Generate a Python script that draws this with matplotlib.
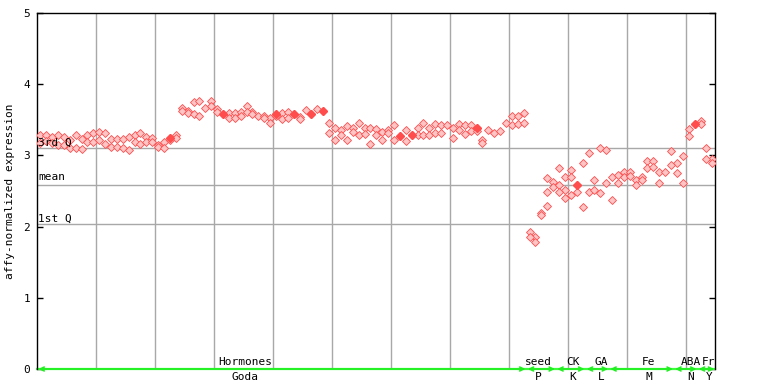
import numpy as np
import matplotlib
matplotlib.use("Agg")
import matplotlib.pyplot as plt

nan = np.nan

# expression values per sample (up to three replicate spots per sample)
expr_a = [3.28, 3.28, 3.26, 3.28, 3.26, 3.22, 3.28, 3.23, 3.28, 3.31,
          3.33, 3.31, 3.23, 3.23, 3.23, 3.26, 3.28, 3.31, 3.26, 3.25,
          3.15, 3.19, 3.25, 3.28, 3.66, 3.63, 3.75, 3.76, 3.66, 3.76,
          3.65, 3.58, 3.59, 3.59, 3.61, 3.69, 3.61, 3.55, 3.55, 3.52,
          3.58, 3.59, 3.61, 3.58, 3.54, 3.64, 3.58, 3.65, 3.62, 3.46,
          3.38, 3.36, 3.41, 3.38, 3.46, 3.39, 3.38, 3.37, 3.33, 3.36,
          3.43, 3.27, 3.36, 3.28, 3.38, 3.46, 3.38, 3.44, 3.42, 3.43,
          3.38, 3.44, 3.43, 3.42, 3.38, 3.22, 3.36, 3.32, 3.34, 3.45,
          3.55, 3.55, 3.59, 1.92, 1.85, 2.19, 2.68, 2.63, 2.82, 2.69,
          2.80, 2.58, 2.90, 3.04, 2.65, 3.11, 3.07, 2.69, 2.73, 2.76,
          2.76, 2.66, 2.69, 2.92, 2.92, 2.76, 2.76, 3.06, 2.90, 2.99,
          3.37, 3.44, 3.49, 3.10, 2.95]
expr_b = [3.18, 3.20, 3.17, 3.15, 3.15, 3.10, 3.10, 3.09, 3.19, 3.19,
          3.22, 3.16, 3.12, 3.12, 3.10, 3.07, 3.19, 3.16, 3.19, 3.19,
          3.12, 3.10, 3.22, 3.25, 3.63, 3.59, 3.58, 3.55, nan, 3.69,
          3.61, nan, 3.52, 3.52, 3.55, 3.61, 3.58, nan, 3.52, 3.45,
          3.55, 3.51, 3.52, nan, 3.51, nan, nan, nan, nan, 3.31,
          3.21, 3.29, 3.22, 3.33, 3.29, 3.30, 3.16, 3.28, 3.21, 3.31,
          3.21, nan, 3.20, nan, 3.28, 3.29, 3.29, 3.32, 3.32, nan,
          3.24, 3.36, 3.30, 3.34, 3.34, 3.17, nan, nan, nan, nan,
          3.43, 3.44, 3.45, 1.85, 1.78, 2.16, 2.49, 2.56, 2.58, 2.52,
          2.69, 2.48, 2.27, 2.48, 2.52, 2.47, 2.61, 2.38, 2.61, 2.69,
          2.71, 2.59, 2.66, 2.83, 2.84, 2.61, nan, 2.86, 2.75, 2.61,
          3.27, nan, 3.44, 2.95, 2.90]
expr_c = {86: 2.29, 88: 2.48, 89: 2.40, 90: 2.44}
overlap = [22, 31, 40, 43, 46, 48, 61, 63, 74, 91, 111]

# quartile reference lines
q3, q_mean, q1 = 3.10, 2.58, 2.03

# sample groups: treatment, source, first / last sample, label centre
groups = ["Hormones", "seed", "CK", "GA", "Fe", "ABA", "Fr"]
sources = ["Goda", "P", "K", "L", "M", "N", "Y"]
g_start = [0, 83, 88, 93, 97, 108, 112]
g_end = [82, 87, 92, 96, 107, 111, 114]
g_label = [34.7, 84.5, 90.3, 95.2, 103.2, 110.4, 113.4]

red = "#ff4d4d"
green = "#3cff3c"
grey = "#a8a8a8"
plt.rcParams["font.family"] = "DejaVu Sans Mono"

fig = plt.figure(figsize=(7.68, 3.84), dpi=100)
ax = fig.add_axes([37 / 768, 15 / 384, 678 / 768, 356 / 384])

x = np.arange(len(expr_a))
mk = dict(marker="D", ls="none", ms=3.7, mfc="#ffc4c4", mec=red, mew=0.6, zorder=3)
ax.plot(x, expr_a, **mk)
ax.plot(x, expr_b, **mk)
ax.plot(list(expr_c.keys()), list(expr_c.values()), **mk)
ax.plot(overlap, [expr_a[i] for i in overlap], "D", ms=4.0, color=red, zorder=4)

ax.set_xlim(-0.55, 114.45)
ax.set_ylim(0, 5)

# grid
for k in range(1, 12):
    ax.axvline(-0.55 + 10 * k, color=grey, lw=1, zorder=1)
for v, lab, off in [(q3, "3rd Q", 1), (q_mean, "mean", 3), (q1, "1st Q", 1)]:
    ax.axhline(v, color=grey, lw=1, zorder=1)
    ax.annotate(lab, (0, v), xycoords=("axes fraction", "data"),
                xytext=(1, off), textcoords="offset pixels",
                fontsize=8, va="bottom", ha="left", zorder=5)

ax.set_yticks([0, 1, 2, 3, 4, 5])
ax.set_xticks([])
ax.tick_params(axis="y", direction="in", length=4.5, width=1, labelsize=8,
               right=True, pad=5)
ax.set_ylabel("affy-normalized expression", fontsize=8, labelpad=6)

for side in ["left", "right", "top"]:
    ax.spines[side].set_linewidth(1)
ax.spines["bottom"].set_visible(False)

# group bar along the bottom
ax.axhline(0, color=green, lw=1.6, zorder=2, clip_on=False)
for name, src, s, e, c in zip(groups, sources, g_start, g_end, g_label):
    ax.annotate("", xy=(s - 0.3, 0), xytext=(e + 0.3, 0),
                arrowprops=dict(arrowstyle="<->", color="#22ee22", lw=1.2,
                                mutation_scale=7, shrinkA=0, shrinkB=0),
                annotation_clip=False, zorder=2)
    ax.annotate(name, (c, 0), xytext=(0, 2), textcoords="offset pixels",
                ha="center", va="bottom", fontsize=8, annotation_clip=False)
    ax.annotate(src, (c, 0), xytext=(0, -3), textcoords="offset pixels",
                ha="center", va="top", fontsize=8, annotation_clip=False)

fig.savefig("out.png", dpi=100)
